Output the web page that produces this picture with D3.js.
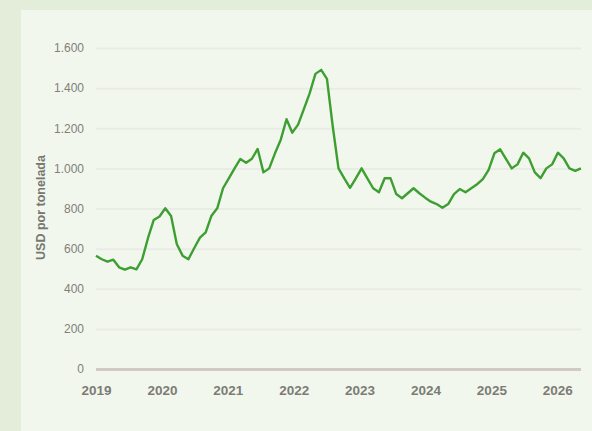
<!DOCTYPE html>
<html>
<head>
<meta charset="utf-8">
<script src="https://cdn.jsdelivr.net/npm/d3@7"></script>
<style>
  html, body { margin: 0; padding: 0; background: #e3edd9; }
  svg { display: block; font-family: "Liberation Sans", Arial, sans-serif; }
</style>
</head>
<body>
<svg width="592" height="431"></svg>
<script>
// price per ton, one reading per step from 2019 onwards
let prices = [565, 547, 535, 545, 507, 495, 507, 497, 547, 652,
              743, 760, 801, 763, 622, 565, 547, 602, 655, 681,
              764, 801, 901, 950, 1000, 1047, 1028, 1048, 1097, 980,
              1000, 1075, 1143, 1245, 1178, 1218, 1295, 1374, 1471, 1491,
              1446, 1210, 1000, 950, 903, 950, 1000, 950, 901, 881,
              951, 951, 872, 851, 876, 901, 876, 854, 834, 822,
              804, 822, 872, 897, 881, 901, 921, 946, 992, 1075,
              1095, 1047, 1000, 1020, 1078, 1050, 980, 951, 1000, 1020,
              1078, 1050, 1000, 988, 1000];
let years = [2019, 2020, 2021, 2022, 2023, 2024, 2025, 2026];
let yTicks = [0, 200, 400, 600, 800, 1000, 1200, 1400, 1600];
let lastYear = 2026.36; // where the last reading sits on the year axis

let svg = d3.select("svg");
let margin = { top: 48, right: 11, bottom: 62, left: 96 };
let width = 592 - margin.left - margin.right;
let height = 431 - margin.top - margin.bottom;

// lighter panel behind the chart
svg.append("rect")
  .attr("x", 21).attr("y", 10)
  .attr("width", 592 - 21).attr("height", 431 - 10)
  .attr("fill", "#f2f7ee");

let plot = svg.append("g")
  .attr("transform", "translate(" + margin.left + "," + margin.top + ")");

let x = d3.scaleLinear().domain([0, prices.length - 1]).range([0, width]);
let xYear = d3.scaleLinear().domain([2019, lastYear]).range([0, width]);
let y = d3.scaleLinear().domain([0, 1600]).range([height, 0]);

let fmt = function(d) { return d3.format(",")(d).replace(/,/g, "."); };

// grid
let yAxis = d3.axisLeft(y).tickValues(yTicks).tickSize(-width).tickFormat(fmt).tickPadding(12);
let yGroup = plot.append("g").call(yAxis);
yGroup.select(".domain").remove();
yGroup.selectAll(".tick line")
  .attr("stroke", d => d === 0 ? "#cfcbc3" : "#e9ece5")
  .attr("stroke-width", d => d === 0 ? 3 : 2);
yGroup.selectAll(".tick text")
  .attr("fill", "#80807a").style("font-size", "12px");

let xAxis = d3.axisBottom(xYear).tickValues(years).tickFormat(d3.format("d")).tickSize(0).tickPadding(16);
let xGroup = plot.append("g").attr("transform", "translate(0," + height + ")").call(xAxis);
xGroup.select(".domain").remove();
xGroup.selectAll(".tick text")
  .attr("fill", "#7c7c76").style("font-size", "13.5px").style("font-weight", "bold");

let line = d3.line()
  .x((d, i) => x(i))
  .y(d => y(d));

plot.append("path")
  .datum(prices)
  .attr("fill", "none")
  .attr("stroke", "#3d9f32")
  .attr("stroke-width", 2.4)
  .attr("stroke-linejoin", "round")
  .attr("d", line);

svg.append("text")
  .attr("transform", "translate(45," + (margin.top + height / 2 - 1) + ") rotate(-90)")
  .style("text-anchor", "middle")
  .style("font-size", "12.5px")
  .style("font-weight", "bold")
  .attr("fill", "#77776f")
  .text("USD por tonelada");
</script>
</body>
</html>
